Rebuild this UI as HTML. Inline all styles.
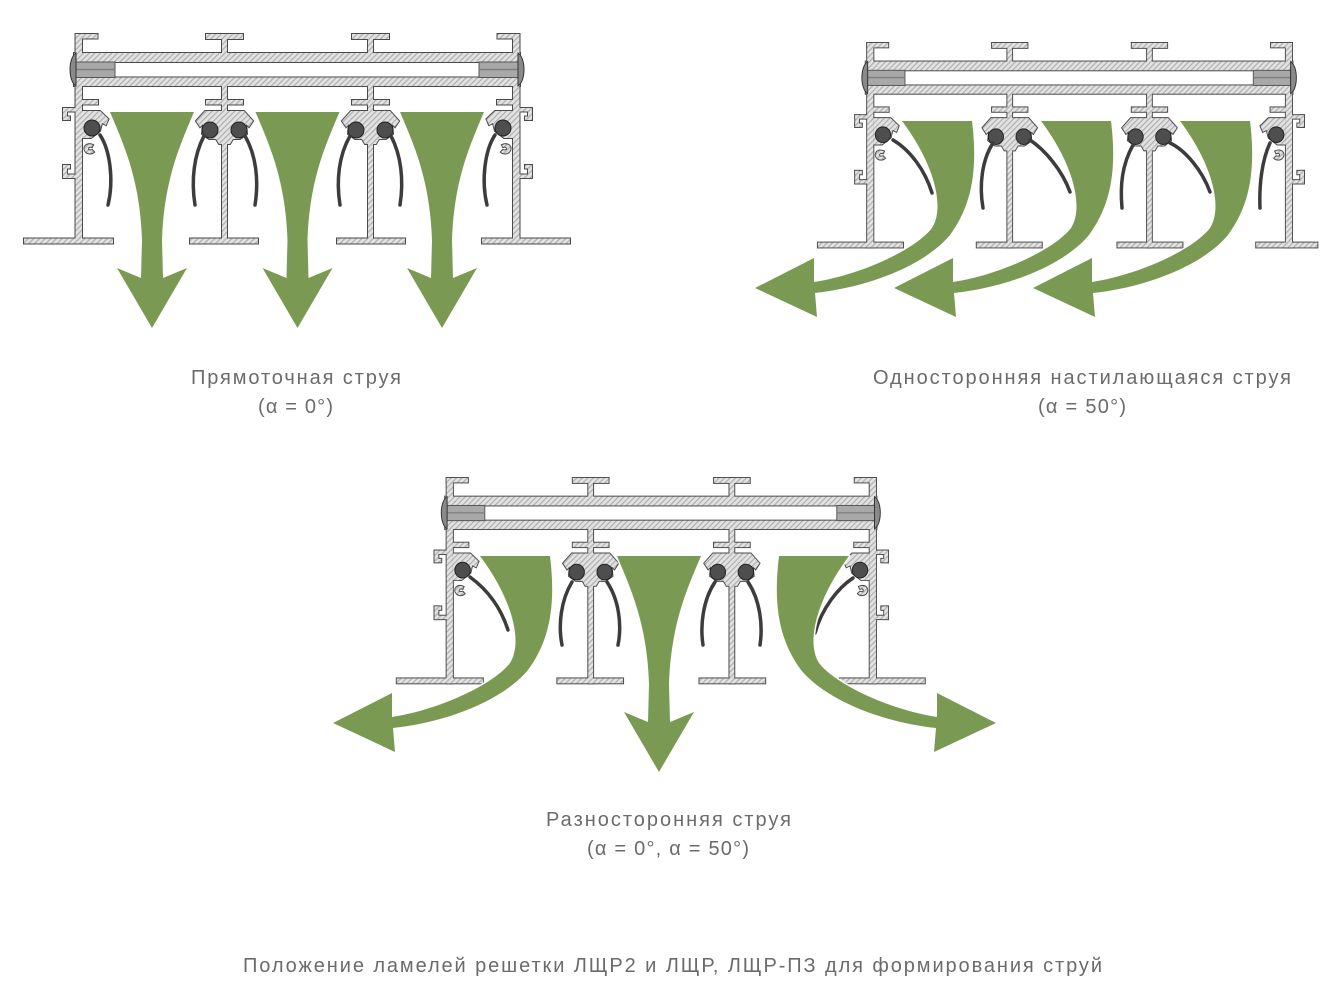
<!DOCTYPE html>
<html>
<head>
<meta charset="utf-8">
<style>
  html,body{margin:0;padding:0;background:#fff;}
  svg{display:block;}
  .t{font-family:"Liberation Sans","DejaVu Sans",sans-serif;font-size:20px;fill:#6b6b6b;}
</style>
</head>
<body>
<svg width="1344" height="1003" viewBox="0 0 1344 1003" xmlns="http://www.w3.org/2000/svg">
<defs>
  <pattern id="h" patternUnits="userSpaceOnUse" width="4" height="4" patternTransform="rotate(45)">
    <rect width="4" height="4" fill="#e2e2e2"/>
    <line x1="0.6" y1="0" x2="0.6" y2="4" stroke="#aeaeae" stroke-width="1.2"/>
  </pattern>
  <g id="parts">
    <!-- top -->
    <rect x="75.5" y="34" width="22" height="4.5"/>
    <rect x="75.5" y="34" width="6.5" height="20"/>
    <rect x="206" y="34" width="37" height="5"/>
    <rect x="222" y="34" width="5" height="20"/>
    <rect x="352" y="34" width="37" height="5"/>
    <rect x="368" y="34" width="5" height="20"/>
    <rect x="497.5" y="34" width="22" height="4.5"/>
    <rect x="513" y="34" width="6.5" height="20"/>
    <!-- tube walls -->
    <rect x="74" y="53" width="446" height="9"/>
    <rect x="74" y="77.5" width="446" height="8.5"/>
    <!-- verticals -->
    <rect x="75.5" y="85" width="6.5" height="158.5"/>
    <rect x="222" y="85" width="5" height="158.5"/>
    <rect x="368" y="85" width="5" height="158.5"/>
    <rect x="513" y="85" width="6.5" height="158.5"/>
    <!-- bars -->
    <rect x="82" y="100" width="16" height="4.5"/>
    <rect x="206" y="100" width="37" height="4.5"/>
    <rect x="352" y="100" width="37" height="4.5"/>
    <rect x="497" y="100" width="16" height="4.5"/>
    <!-- bottom flanges (right one drawn per diagram) -->
    <rect x="24" y="238.5" width="89" height="5"/>
    <rect x="190" y="238.5" width="68" height="5"/>
    <rect x="337" y="238.5" width="68" height="5"/>
    <!-- left brackets -->
    <rect x="63" y="108" width="12.5" height="3.5"/>
    <rect x="63" y="108" width="4" height="12"/>
    <rect x="63" y="116.5" width="7" height="3.5"/>
    <rect x="63" y="165" width="4" height="13"/>
    <rect x="63" y="174.5" width="12.5" height="3.5"/>
    <rect x="63" y="165" width="7" height="3.5"/>
    <!-- right brackets -->
    <rect x="519.5" y="108" width="12.5" height="3.5"/>
    <rect x="528" y="108" width="4" height="12"/>
    <rect x="525" y="116.5" width="7" height="3.5"/>
    <rect x="528" y="165" width="4" height="13"/>
    <rect x="519.5" y="174.5" width="12.5" height="3.5"/>
    <rect x="525" y="165" width="7" height="3.5"/>
    <!-- holders -->
    <path d="M82,111 L100,111 L108.5,119 L106,125 L102,123 L100,131 L91,138 L82,138 Z"/>
    <path d="M205,111 L244,111 L253,121 L249,127 L246,124 L247,134 L240,139 L233,139 L230,144 L219,144 L216,139 L209,139 L202,134 L203,124 L200,127 L196,121 Z"/>
    <path d="M351,111 L390,111 L399,121 L395,127 L392,124 L393,134 L386,139 L379,139 L376,144 L365,144 L362,139 L355,139 L348,134 L349,124 L346,127 L342,121 Z"/>
    <path d="M513,111 L495,111 L486.5,119 L489,125 L493,123 L495,131 L504,138 L513,138 Z"/>
    <!-- C hooks -->
    <path d="M93,145 C86,142 82,148 86,152 C88,154 92,154 94,152 L92,150 C90,151 88,150 88,149 C88,147 90,146 92,147 Z"/>
    <path d="M502,145 C509,142 513,148 509,152 C507,154 503,154 501,152 L503,150 C505,151 507,150 507,149 C507,147 505,146 503,147 Z"/>
  </g>
  <g id="frameO">
    <use href="#parts" fill="none" stroke="#4a4a4a" stroke-width="2"/>
  </g>
  <g id="frameF">
    <use href="#parts" fill="url(#h)"/>
    <!-- plugs -->
    <rect x="76" y="62" width="39" height="15.5" fill="#a8a8a8" stroke="#555" stroke-width="1"/>
    <line x1="76" y1="69.5" x2="115" y2="69.5" stroke="#808080" stroke-width="1.5"/>
    <rect x="479" y="62" width="39" height="15.5" fill="#a8a8a8" stroke="#555" stroke-width="1"/>
    <line x1="479" y1="69.5" x2="518" y2="69.5" stroke="#808080" stroke-width="1.5"/>
    <!-- caps -->
    <path d="M76,53 C68,58 68,81 76,86 Z" fill="#8a8a8a" stroke="#333" stroke-width="1"/>
    <path d="M518,53 C526,58 526,81 518,86 Z" fill="#8a8a8a" stroke="#333" stroke-width="1"/>
    <!-- circles -->
    <g fill="#4e4e4e" stroke="#222" stroke-width="1">
      <circle cx="92" cy="128" r="8"/>
      <circle cx="210" cy="130" r="8"/>
      <circle cx="239" cy="130" r="8"/>
      <circle cx="356" cy="130" r="8"/>
      <circle cx="385" cy="130" r="8"/>
      <circle cx="503" cy="128" r="8"/>
    </g>
  </g>
  <path id="va" d="M-42,112 L42,112 C28,145 12,180 10,240 L11,278 L35,268 L0,328 L-35,268 L-11,278 L-10,240 C-12,180 -28,145 -42,112 Z"/>
  <path id="ca" d="M902,121 L972,121 C978,170 972,205 950,235 C925,265 870,287 815,293 L817,317 L755,288 L814,258 L814,282 C860,275 915,250 932,228 C945,208 935,165 902,121 Z"/>
</defs>

<rect width="1344" height="1003" fill="#fff"/>

<!-- ===== Diagram 1: top-left ===== -->
<g>
  <rect x="482" y="238.5" width="88" height="5" fill="none" stroke="#4a4a4a" stroke-width="2"/>
  <use href="#frameO"/>
  <rect x="482" y="238.5" width="88" height="5" fill="url(#h)"/>
  <use href="#frameF"/>
</g>
<g fill="none" stroke="#3c3c3c" stroke-width="3.5" stroke-linecap="round">
  <path d="M100,135 C110,150 114,180 108,205"/>
  <path d="M204,136 C194,155 191,180 195,205"/>
  <path d="M245,136 C256,155 259,180 255,205"/>
  <path d="M350,136 C339,155 336,180 340,205"/>
  <path d="M391,136 C401,155 404,180 400,205"/>
  <path d="M495,135 C485,150 481,180 487,205"/>
</g>
<g fill="#7a9a54" stroke="#fff" stroke-width="3" stroke-linejoin="round" paint-order="stroke">
  <use href="#va" transform="translate(152,0)"/>
  <use href="#va" transform="translate(297.5,0)"/>
  <use href="#va" transform="translate(442,0)"/>
</g>

<!-- ===== Diagram 2: top-right ===== -->
<g transform="translate(794.9,9.8) scale(0.957,0.976)">
  <rect x="482" y="238.5" width="64" height="5" fill="none" stroke="#4a4a4a" stroke-width="2"/>
  <use href="#frameO"/>
  <rect x="482" y="238.5" width="64" height="5" fill="url(#h)"/>
  <use href="#frameF"/>
</g>
<g fill="none" stroke="#3c3c3c" stroke-width="3.5" stroke-linecap="round">
  <path d="M893,140 C910,150 925,170 932,193"/>
  <path d="M993,143 C982,160 979,185 983,208"/>
  <path d="M1030,140 C1045,150 1062,170 1070,192"/>
  <path d="M1133,145 C1122,165 1120,185 1122,208"/>
  <path d="M1170,143 C1185,150 1202,170 1210,192"/>
  <path d="M1270,143 C1262,160 1259,185 1260,208"/>
</g>
<g fill="#7a9a54" stroke="#fff" stroke-width="3" stroke-linejoin="round" paint-order="stroke">
  <use href="#ca"/>
  <use href="#ca" transform="translate(139,0)"/>
  <use href="#ca" transform="translate(278,0)"/>
</g>

<!-- ===== Diagram 3: bottom ===== -->
<g transform="translate(373.6,444.7) scale(0.967,0.98)">
  <rect x="482" y="238.5" width="88" height="5" fill="none" stroke="#4a4a4a" stroke-width="2"/>
  <use href="#frameO"/>
  <rect x="482" y="238.5" width="88" height="5" fill="url(#h)"/>
  <use href="#frameF"/>
</g>
<g fill="none" stroke="#3c3c3c" stroke-width="3.5" stroke-linecap="round">
  <path d="M470,577 C485,588 500,605 508,630"/>
  <path d="M572,582 C561,600 558,625 562,645"/>
  <path d="M607,582 C619,600 622,625 618,645"/>
  <path d="M715,582 C703,600 700,625 703,645"/>
  <path d="M748,582 C760,600 763,625 760,645"/>
  <path d="M853,578 C838,588 822,608 815,633"/>
</g>
<g fill="#7a9a54" stroke="#fff" stroke-width="3" stroke-linejoin="round" paint-order="stroke">
  <use href="#ca" transform="translate(-422,435)"/>
  <use href="#ca" transform="matrix(-1,0,0,1,1751,435)"/>
  <use href="#va" transform="translate(659,444)"/>
</g>

<!-- ===== Text ===== -->
<text class="t" x="191" y="384" textLength="210" lengthAdjust="spacing">Прямоточная струя</text>
<text class="t" x="258" y="413" textLength="75" lengthAdjust="spacing">(α = 0°)</text>

<text class="t" x="873" y="384" textLength="418" lengthAdjust="spacing">Односторонняя настилающаяся струя</text>
<text class="t" x="1038" y="413" textLength="88" lengthAdjust="spacing">(α = 50°)</text>

<text class="t" x="546" y="826" textLength="245" lengthAdjust="spacing">Разносторонняя струя</text>
<text class="t" x="587" y="855" textLength="162" lengthAdjust="spacing">(α = 0°, α = 50°)</text>

<text class="t" x="243" y="972" textLength="859" lengthAdjust="spacing">Положение ламелей решетки ЛЩР2 и ЛЩР, ЛЩР-ПЗ для формирования струй</text>
</svg>
</body>
</html>
